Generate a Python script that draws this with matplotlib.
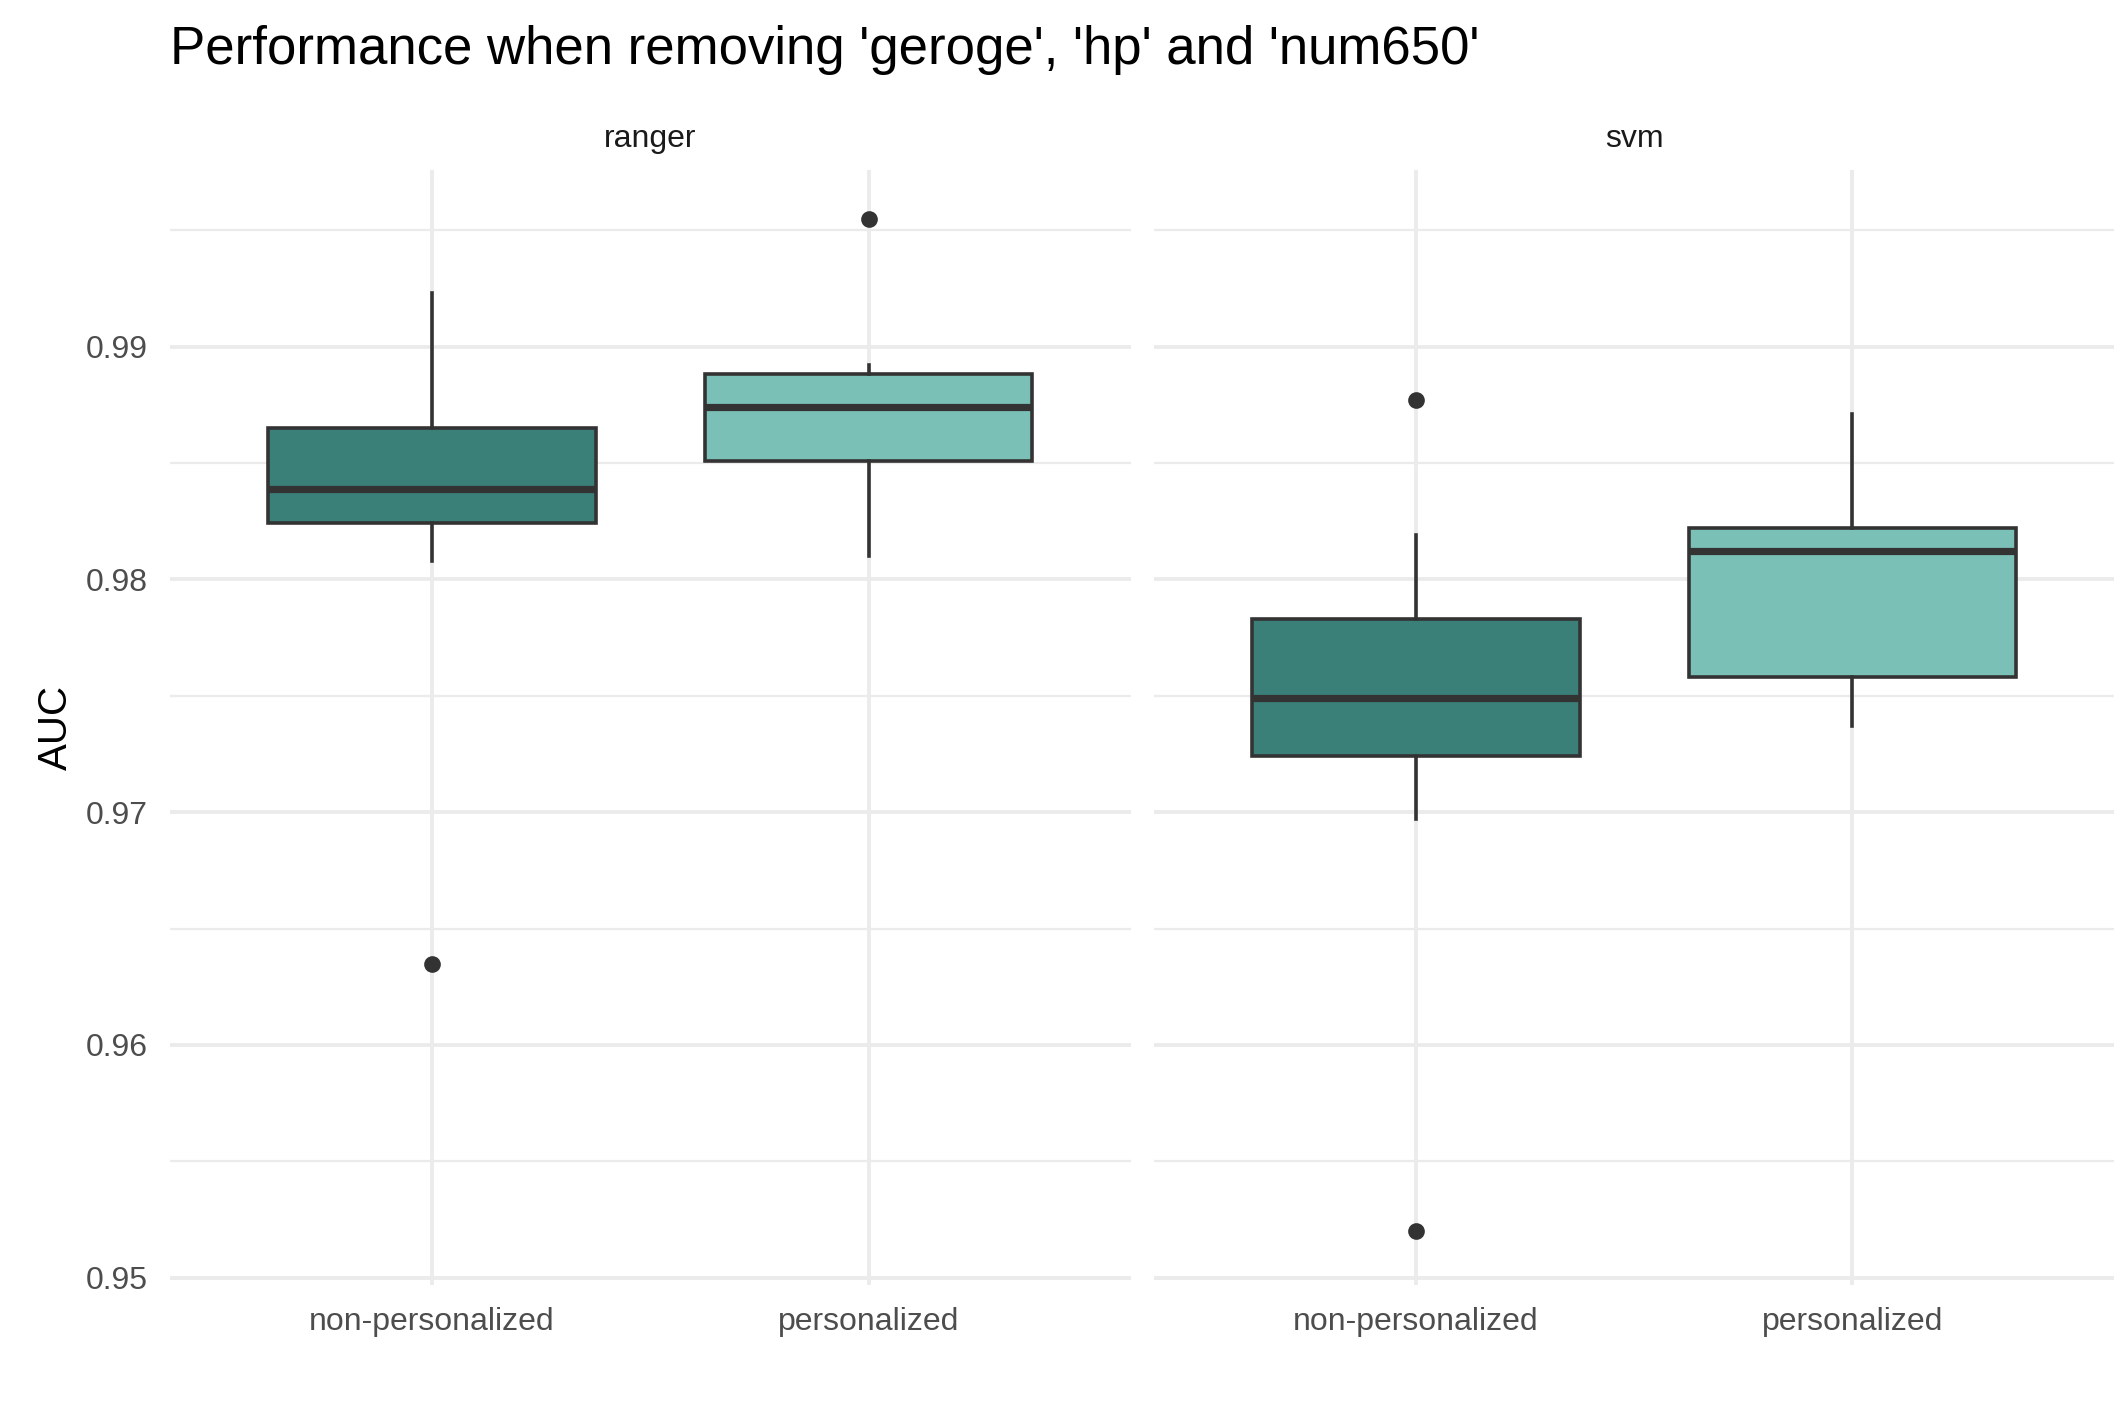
import matplotlib.pyplot as plt
from matplotlib.ticker import MultipleLocator

plt.rcParams['font.family'] = ['Liberation Sans', 'DejaVu Sans']

models = ['ranger', 'svm']
groups = ['non-personalized', 'personalized']
colors = ['#3A7F78', '#7BC0B7']

# per model, per group: whislo, q1, med, q3, whishi, outliers
stats_vals = {
    'ranger': [(0.9808, 0.9824, 0.9839, 0.9865, 0.9923, [0.9635]),
               (0.9810, 0.9851, 0.9874, 0.9888, 0.9892, [0.9955])],
    'svm': [(0.9697, 0.9724, 0.9749, 0.9783, 0.9819, [0.9877, 0.9520]),
            (0.9737, 0.9758, 0.9812, 0.9822, 0.9871, [])],
}

fig = plt.figure(figsize=(2125 / 200, 1417 / 200), dpi=200)
lefts = [0.080, 0.543]
for i, m in enumerate(models):
    ax = fig.add_axes([lefts[i], 0.0933, 0.452, 0.787])
    bxp = []
    for lo, q1, med, q3, hi, fl in stats_vals[m]:
        bxp.append(dict(whislo=lo, q1=q1, med=med, q3=q3, whishi=hi, fliers=fl))
    b = ax.bxp(bxp, positions=[1, 2], widths=0.75, patch_artist=True, showcaps=False,
               boxprops=dict(edgecolor='#333333', linewidth=1.3),
               medianprops=dict(color='#333333', linewidth=2.6),
               whiskerprops=dict(color='#333333', linewidth=1.3),
               flierprops=dict(marker='o', markerfacecolor='#333333',
                               markeredgecolor='#333333', markersize=5))
    for p, c in zip(b['boxes'], colors):
        p.set_facecolor(c)
    ax.set_xlim(0.4, 2.6)
    ax.set_ylim(0.9497, 0.9976)
    ax.yaxis.set_major_locator(MultipleLocator(0.01))
    ax.yaxis.set_minor_locator(MultipleLocator(0.005))
    ax.yaxis.set_major_formatter(lambda v, p: f'{v:.2f}')
    ax.set_xticks([1, 2], groups)
    ax.grid(which='major', color='#EBEBEB', linewidth=1.4)
    ax.grid(which='minor', axis='y', color='#EBEBEB', linewidth=0.8)
    ax.set_axisbelow(True)
    for s in ax.spines.values():
        s.set_visible(False)
    ax.tick_params(which='both', length=0, labelsize=11.5, labelcolor='#4D4D4D', pad=8)
    if i == 0:
        ax.set_ylabel('AUC', fontsize=14.5)
    else:
        ax.set_yticklabels([])
    ax.set_title(m, fontsize=11.5, color='#1A1A1A', pad=8)

fig.text(0.080, 0.965, "Performance when removing 'geroge', 'hp' and 'num650'",
         fontsize=19, va='center')
fig.savefig('out.png', dpi=200, facecolor='white')
